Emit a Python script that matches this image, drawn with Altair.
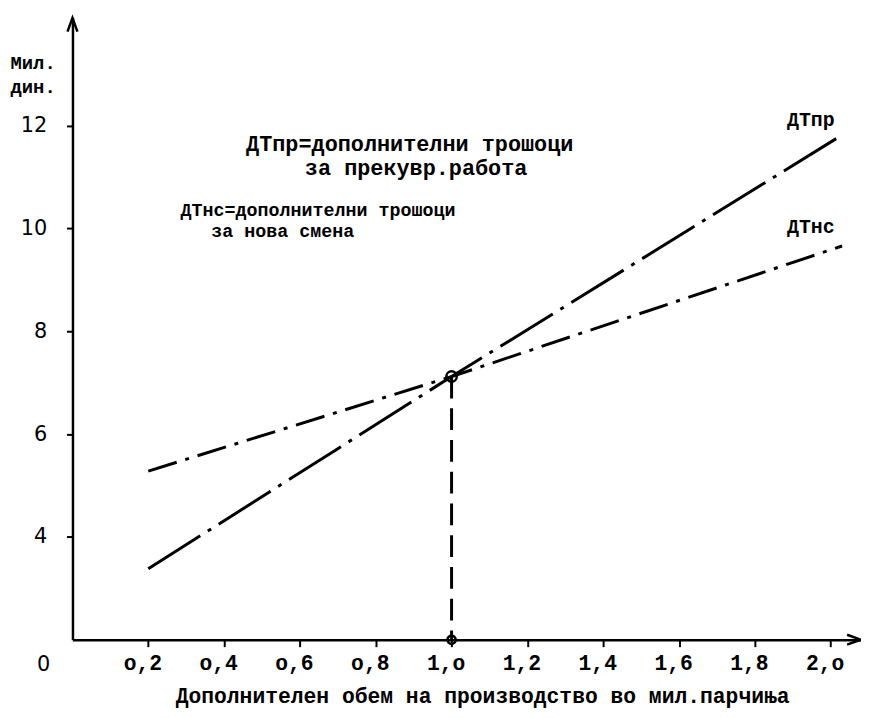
import altair as alt
import pandas as pd

# ---- data ----
x_pts = [0.2, 1.0, 2.03]
dtpr_y = [3.38, 7.12, 11.82]      # ДТпр = дополнителни трошоци за прекувр. работа
dtnc_y = [5.28, 7.12, 9.66]       # ДТнс = дополнителни трошоци за нова смена
series_names = ["ДТпр", "ДТнс"]

x_ticks = [0.2, 0.4, 0.6, 0.8, 1.0, 1.2, 1.4, 1.6, 1.8, 2.0]
x_tick_labels = ["o,2", "o,4", "o,6", "o,8", "1,o", "1,2", "1,4", "1,6", "1,8", "2,o"]
y_ticks = [4, 6, 8, 10, 12]

x_title = "Дополнителен обем на производство во мил.парчиња"
y_title = ["Мил.", "дин."]

note_text = ["ДТпр=дополнителни трошоци", "за прекувр.работа",
             "ДТнс=дополнителни трошоци", "за нова смена"]
note_x = [0.458, 0.613, 0.285, 0.366]
note_y = [11.65, 11.17, 10.36, 9.96]
note_size = [22, 22, 18.5, 18.5]

label_x = [1.885, 1.885]
label_y = [12.12, 10.03]

meet_x = 1.0
meet_y = 7.12

X_DOM = [0, 2.08]
Y_DOM = [2, 14.1]

# ---- tables ----
lines_df = pd.DataFrame({
    "x": x_pts * 2,
    "y": dtpr_y + dtnc_y,
    "s": [series_names[0]] * 3 + [series_names[1]] * 3,
})
notes_df = pd.DataFrame({"x": note_x, "y": note_y, "t": note_text, "fs": note_size})
labels_df = pd.DataFrame({"x": label_x, "y": label_y, "t": series_names})
drop_df = pd.DataFrame({"x": [meet_x, meet_x], "y": [meet_y, Y_DOM[0]]})
circ_df = pd.DataFrame({"x": [meet_x], "y": [meet_y]})
circ0_df = pd.DataFrame({"x": [meet_x], "y": [Y_DOM[0]]})
origin_df = pd.DataFrame({"x": [-0.076], "y": [1.5], "t": ["0"]})
yarrow_df = pd.DataFrame({"x": [X_DOM[0]], "y": [Y_DOM[1]]})
xarrow_df = pd.DataFrame({"x": [X_DOM[1]], "y": [Y_DOM[0]]})

label_expr = "[" + ",".join("'" + s + "'" for s in x_tick_labels) + "][round(datum.value*5)-1]"

MONO = "Liberation Mono"

xs = alt.Scale(domain=X_DOM, nice=False, zero=False)
ys = alt.Scale(domain=Y_DOM, nice=False, zero=False)

x_axis = alt.Axis(
    values=x_ticks, labelExpr=label_expr, grid=False,
    domainColor="black", domainWidth=2.5, tickColor="black", tickWidth=2, tickSize=7,
    labelFont=MONO, labelFontSize=21.5, labelColor="black", labelPadding=6, labelOffset=-6,
    labelFontWeight="bold",
    title=x_title, titleFont=MONO, titleFontSize=21.5, titleFontWeight="bold", titleColor="black",
    titleX=413, titleY=57, titleBaseline="middle", titleAlign="center",
)
y_axis = alt.Axis(
    values=y_ticks, grid=False,
    domainColor="black", domainWidth=2.5, tickColor="black", tickWidth=2, tickSize=6,
    labelFont="DejaVu Sans", labelFontSize=21, labelColor="black", labelPadding=20,
    title=y_title, titleFont=MONO, titleFontSize=19, titleFontWeight="bold", titleColor="black",
    titleAngle=0, titleAlign="left", titleBaseline="top", titleX=-63, titleY=36,
    titleLineHeight=24,
)

base_x = alt.X("x:Q", scale=xs, axis=x_axis)
base_y = alt.Y("y:Q", scale=ys, axis=y_axis)

lines = alt.Chart(lines_df).mark_line(color="black", strokeWidth=3, strokeCap="butt").encode(
    x=base_x, y=base_y,
    detail="s:N",
    strokeDash=alt.StrokeDash("s:N", scale=alt.Scale(domain=series_names,
                                                      range=[[62, 9, 4, 9], [30, 9, 4, 9]]),
                              legend=None),
)

drop = alt.Chart(drop_df).mark_line(color="black", strokeWidth=3, strokeDash=[22, 10]).encode(
    x=alt.X("x:Q", scale=xs), y=alt.Y("y:Q", scale=ys))

circ = alt.Chart(circ_df).mark_point(shape="circle", filled=False, color="black",
                                     strokeWidth=2.5, size=110, opacity=1).encode(
    x=alt.X("x:Q", scale=xs), y=alt.Y("y:Q", scale=ys))
circ0 = alt.Chart(circ0_df).mark_point(shape="circle", filled=False, color="black",
                                       strokeWidth=2.5, size=70, opacity=1).encode(
    x=alt.X("x:Q", scale=xs), y=alt.Y("y:Q", scale=ys))

notes = alt.Chart(notes_df).mark_text(align="left", baseline="middle", font=MONO,
                                      fontWeight="bold", color="black").encode(
    x=alt.X("x:Q", scale=xs), y=alt.Y("y:Q", scale=ys), text="t:N",
    size=alt.Size("fs:Q", scale=None, legend=None))

labels = alt.Chart(labels_df).mark_text(align="left", baseline="middle", font=MONO,
                                        fontWeight="bold", fontSize=20, color="black").encode(
    x=alt.X("x:Q", scale=xs), y=alt.Y("y:Q", scale=ys), text="t:N")

origin = alt.Chart(origin_df).mark_text(align="center", baseline="middle", font="DejaVu Sans",
                                        fontSize=21, color="black").encode(
    x=alt.X("x:Q", scale=xs), y=alt.Y("y:Q", scale=ys), text="t:N")

yarrow = alt.Chart(yarrow_df).mark_point(shape="M-0.5,1.4L0,0L0.5,1.4", filled=False,
                                         color="black", strokeWidth=2.5, size=400, opacity=1).encode(
    x=alt.X("x:Q", scale=xs), y=alt.Y("y:Q", scale=ys))
xarrow = alt.Chart(xarrow_df).mark_point(shape="M-1.4,-0.5L0,0L-1.4,0.5", filled=False,
                                         color="black", strokeWidth=2.5, size=400, opacity=1).encode(
    x=alt.X("x:Q", scale=xs), y=alt.Y("y:Q", scale=ys))

chart = alt.layer(lines, drop, circ, circ0, notes, labels, origin, yarrow, xarrow).properties(
    width=795, height=627,
    autosize=alt.AutoSizeParams(type="none"),
    padding={"left": 65, "top": 7, "right": 0, "bottom": 72},
    background="white",
).configure_view(stroke=None)

chart.save("out.html", embed_options={"renderer": "svg", "actions": False})
